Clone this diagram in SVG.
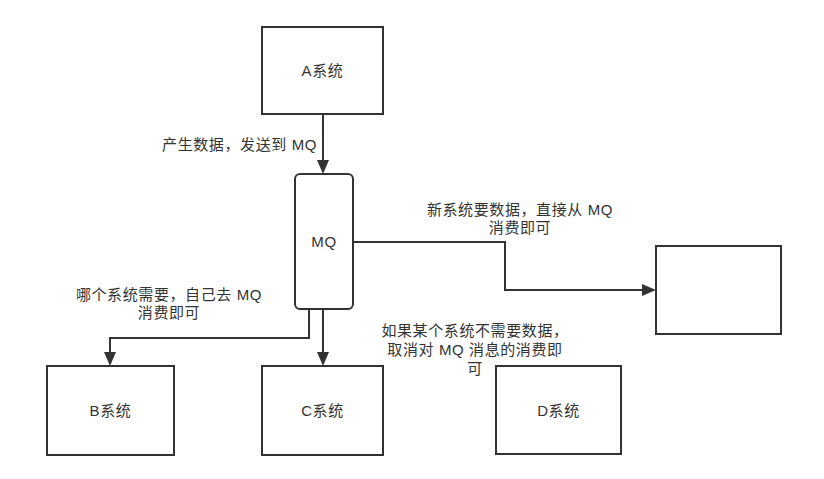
<svg xmlns="http://www.w3.org/2000/svg" width="824" height="479" viewBox="0 0 824 479">
<defs>
<style>
.box{fill:#fff;stroke:#333;stroke-width:2}
.t{font-family:"Liberation Sans","Noto Sans CJK SC",sans-serif;font-size:15px;fill:#333;letter-spacing:0.6px}
.c{text-anchor:middle}
.ln{fill:none;stroke:#333;stroke-width:2}
.ah{fill:#333}
</style>
</defs>
<rect width="824" height="479" fill="#fff"/>
<g id="connectors">
<path class="ln" d="M323,114 V162"/>
<path class="ah" d="M317,160 L329,160 L323,174 z"/>
<path class="ln" d="M353,242 H505 V290 H644"/>
<path class="ah" d="M642,284 L656,290 L642,296 z"/>
<path class="ln" d="M309,309 V338 H110 V354"/>
<path class="ah" d="M104,352 L116,352 L110,366 z"/>
<path class="ln" d="M323,309 V354"/>
<path class="ah" d="M317,352 L329,352 L323,366 z"/>
</g>
<g id="nodeA">
<rect class="box" x="262" y="27" width="121" height="87"/>
<text class="t c" x="322.5" y="76">A系统</text>
</g>
<g id="nodeMQ">
<rect class="box" x="295" y="174" width="58" height="135" rx="5"/>
<text class="t c" x="324" y="247">MQ</text>
</g>
<g id="nodeNew">
<rect class="box" x="656" y="246" width="125" height="88"/>
</g>
<g id="nodeB">
<rect class="box" x="47" y="366" width="127" height="89"/>
<text class="t c" x="110.5" y="416">B系统</text>
</g>
<g id="nodeC">
<rect class="box" x="262" y="366" width="121" height="89"/>
<text class="t c" x="322.5" y="416">C系统</text>
</g>
<g id="nodeD">
<rect class="box" x="496" y="366" width="125" height="88"/>
<text class="t c" x="558.5" y="416">D系统</text>
</g>
<g id="labels">
<text class="t" x="317" y="149.5" text-anchor="end">产生数据，发送到 MQ</text>
<text class="t c" x="520" y="215">新系统要数据，直接从 MQ</text>
<text class="t c" x="520" y="233">消费即可</text>
<text class="t c" x="169" y="300">哪个系统需要，自己去 MQ</text>
<text class="t c" x="169" y="318">消费即可</text>
<text class="t c" x="475" y="336">如果某个系统不需要数据，</text>
<text class="t c" x="475" y="355">取消对 MQ 消息的消费即</text>
<text class="t c" x="475" y="374">可</text>
</g>
</svg>
